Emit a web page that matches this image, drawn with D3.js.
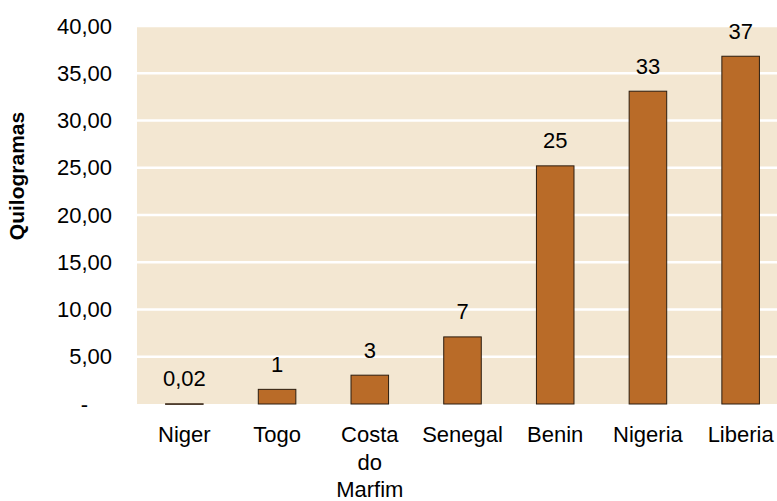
<!DOCTYPE html>
<html>
<head>
<meta charset="utf-8">
<script src="https://cdn.jsdelivr.net/npm/d3@7"></script>
<style>
  body { margin: 0; background: #fff; }
  text { font-family: "Liberation Sans", Arial, sans-serif; fill: #000; }
</style>
</head>
<body>
<div id="chart"></div>
<script>
var countries = [["Niger"], ["Togo"], ["Costa", "do", "Marfim"], ["Senegal"], ["Benin"], ["Nigeria"], ["Liberia"]];
var values = [0.02, 1.55, 3.05, 7.1, 25.2, 33.1, 36.8];
var valueLabels = ["0,02", "1", "3", "7", "25", "33", "37"];
var yTicks = [0, 5, 10, 15, 20, 25, 30, 35, 40];
var yTickLabels = ["-", "5,00", "10,00", "15,00", "20,00", "25,00", "30,00", "35,00", "40,00"];

var width = 777, height = 501;
var fontSize = 22;

var svg = d3.select("#chart").append("svg")
  .attr("width", width)
  .attr("height", height);

var x = d3.scaleBand()
  .domain(d3.range(countries.length))
  .range([138, 787])
  .paddingInner(0.595)
  .paddingOuter(0.2975);

var y = d3.scaleLinear().domain([0, 40]).range([404, 26]);

// plot background
svg.append("rect")
  .attr("x", 137).attr("y", y(40))
  .attr("width", width - 137).attr("height", y(0) - y(40))
  .attr("fill", "#f3e7d2");

// gridlines
svg.append("g")
  .selectAll("line")
  .data(yTicks.filter(function (d) { return d > 0; }))
  .enter()
  .append("line")
  .attr("x1", 137).attr("x2", width)
  .attr("y1", function (d) { return y(d); })
  .attr("y2", function (d) { return y(d); })
  .attr("stroke", "#fff")
  .attr("stroke-width", 2.5);

// y axis labels
var yAxis = d3.axisLeft(y)
  .tickValues(yTicks)
  .tickSize(0)
  .tickPadding(0)
  .tickFormat(function (d, i) { return yTickLabels[i]; });

var gy = svg.append("g")
  .attr("transform", "translate(112,0)")
  .call(yAxis);
gy.select(".domain").remove();
gy.selectAll("text")
  .attr("font-size", fontSize)
  .attr("font-family", "Liberation Sans, Arial, sans-serif")
  .attr("fill", "#000");
gy.selectAll(".tick").filter(function (d) { return d === 0; }).select("text")
  .attr("dx", -24);

// bars
svg.append("g")
  .selectAll("rect")
  .data(values)
  .enter()
  .append("rect")
  .attr("x", function (d, i) { return x(i); })
  .attr("width", x.bandwidth())
  .attr("y", function (d) { return y(d); })
  .attr("height", function (d) { return Math.max(y(0) - y(d), 0.5); })
  .attr("fill", "#b96b28")
  .attr("stroke", "#2b1d10")
  .attr("stroke-width", 1);

// value labels
svg.append("g")
  .selectAll("text")
  .data(values)
  .enter()
  .append("text")
  .attr("x", function (d, i) { return x(i) + x.bandwidth() / 2; })
  .attr("y", function (d) { return y(d) - 17.5; })
  .attr("text-anchor", "middle")
  .attr("font-size", fontSize)
  .text(function (d, i) { return valueLabels[i]; });

// category labels
var cat = svg.append("g")
  .selectAll("text")
  .data(countries)
  .enter()
  .append("text")
  .attr("text-anchor", "middle")
  .attr("font-size", fontSize)
  .attr("transform", function (d, i) {
    return "translate(" + (x(i) + x.bandwidth() / 2) + ",442)";
  });
cat.selectAll("tspan")
  .data(function (d) { return d; })
  .enter()
  .append("tspan")
  .attr("x", 0)
  .attr("dy", function (d, j) { return j === 0 ? 0 : 27.5; })
  .text(function (d) { return d; });

// y title
svg.append("text")
  .attr("transform", "translate(24,176) rotate(-90)")
  .attr("text-anchor", "middle")
  .attr("font-size", 21)
  .attr("font-weight", "bold")
  .text("Quilogramas");
</script>
</body>
</html>
